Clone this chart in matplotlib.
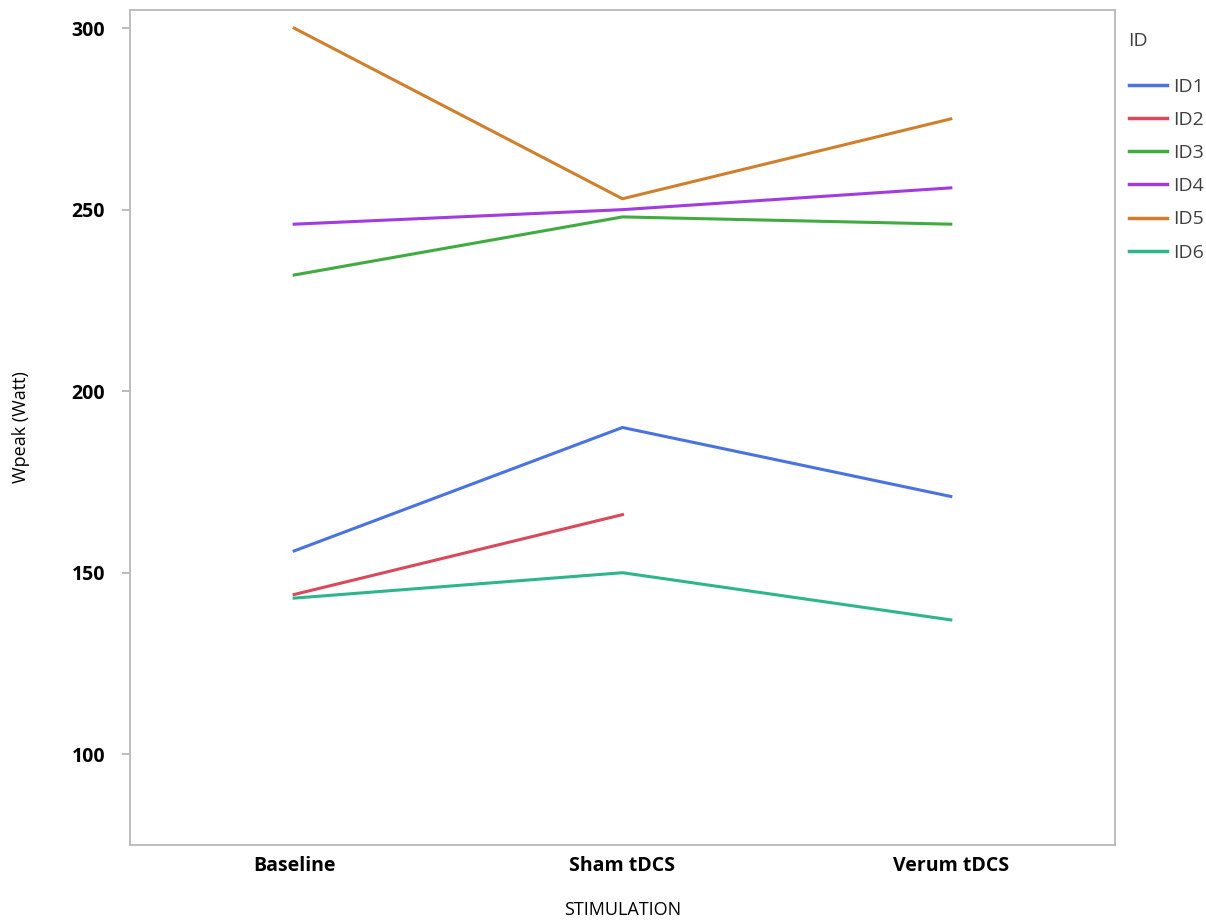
import matplotlib.pyplot as plt
from matplotlib.lines import Line2D

# Datos
stimulation = ["Baseline", "Sham tDCS", "Verum tDCS"]
ids = ["ID1", "ID2", "ID3", "ID4", "ID5", "ID6"]
id1 = [156, 190, 171]
id2 = [144, 166]
id3 = [232, 248, 246]
id4 = [246, 250, 256]
id5 = [300, 253, 275]
id6 = [143, 150, 137]
series = [id1, id2, id3, id4, id5, id6]
colors = ["#4a72e0", "#d9485b", "#40ab3e", "#a23ce0", "#d07f2c", "#2db68b"]

plt.rcParams['font.family'] = ['Open Sans', 'DejaVu Sans']

fig = plt.figure(figsize=(12.06, 9.23), dpi=100)
ax = fig.add_axes([0.1078, 0.0845, 0.8167, 0.9047])

for vals, c, name in zip(series, colors, ids):
    ax.plot(range(len(vals)), vals, color=c, lw=2.2, label=name)

ax.set_xlim(-0.5, 2.5)
ax.set_ylim(75, 305)
ax.set_xticks(range(len(stimulation)))
ax.set_xticklabels(stimulation, fontsize=14, fontweight='bold')
ax.set_yticks([100, 150, 200, 250, 300])
ax.set_yticklabels(["100", "150", "200", "250", "300"], fontsize=14, fontweight='bold')
ax.tick_params(axis='y', length=6, color='#b0b0b0', width=1.2, pad=12)
ax.tick_params(axis='x', length=0, pad=8)
for s in ax.spines.values():
    s.set_color('#b8b8b8')
    s.set_linewidth(1.3)

ax.set_ylabel("Wpeak (Watt)", fontsize=13, labelpad=30)
ax.set_xlabel("STIMULATION", fontsize=13, labelpad=18)

handles = [Line2D([], [], color=c, lw=2.5) for c in colors]
leg = ax.legend(handles, ids, loc='upper left', bbox_to_anchor=(1.0, 0.99),
                frameon=False, title="ID", fontsize=14, title_fontsize=14,
                handlelength=2.0, handletextpad=0.3, labelspacing=0.78,
                borderaxespad=0.3, alignment='left')
leg._legend_box.sep = 20
for t in leg.get_texts():
    t.set_color('#404040')
leg.get_title().set_color('#404040')

plt.savefig("out.png", dpi=100)
